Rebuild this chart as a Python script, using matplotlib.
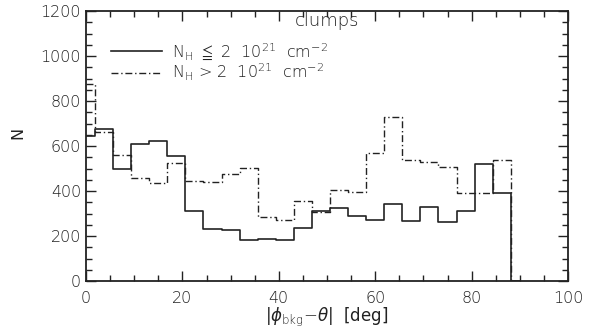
import numpy as np
import matplotlib
matplotlib.use("Agg")
import matplotlib.pyplot as plt
from matplotlib.ticker import MultipleLocator

# bin centres (deg) and counts
bin_width = 3.75
centers = np.arange(24) * bin_width
n_low = [644, 674, 499, 607, 624, 556, 313, 232, 228, 182, 185, 182,
         236, 313, 323, 290, 270, 341, 268, 327, 264, 310, 520, 390]
n_high = [876, 663, 560, 458, 434, 523, 446, 441, 476, 503, 286, 270,
          357, 305, 406, 397, 570, 727, 538, 527, 508, 392, 392, 538]

x_ticks = [0, 20, 40, 60, 80, 100]
y_ticks = [0, 200, 400, 600, 800, 1000, 1200]

plt.rcParams['font.family'] = ['DejaVu Sans']
plt.rcParams['font.weight'] = 'light'
plt.rcParams['mathtext.fontset'] = 'custom'
plt.rcParams['mathtext.rm'] = 'DejaVu Sans:light'
plt.rcParams['mathtext.it'] = 'DejaVu Sans:italic:light'

fig = plt.figure(figsize=(5.95, 3.31), dpi=100)
ax = fig.add_axes([86/595, 1-281/331, (568-86)/595, (281-11)/331])

xs = np.append(centers, 90.0)
ax.step(xs, np.append(n_low, 0), where='mid', color='#222222', lw=1.2,
        label=r'N$_{\rm H}$ $\leqq$ 2  10$^{21}$  cm$^{-2}$')
ax.step(xs, np.append(n_high, 0), where='mid', color='#222222', lw=1.0,
        linestyle=(0, (5, 2, 1, 2)),
        label=r'N$_{\rm H}$ > 2  10$^{21}$  cm$^{-2}$')

ax.set_xlim(0, 100)
ax.set_ylim(0, 1200)
ax.set_xticks(x_ticks)
ax.set_yticks(y_ticks)
ax.xaxis.set_minor_locator(MultipleLocator(5))
ax.yaxis.set_minor_locator(MultipleLocator(50))
ax.tick_params(which='both', direction='in', top=True, right=True, width=1.0,
               labelsize=11.5, color='#222222', labelcolor='#222222')
ax.tick_params(which='major', length=7)
ax.tick_params(which='minor', length=4)
ax.tick_params(axis='x', pad=7)
for s in ax.spines.values():
    s.set_linewidth(1.3)
    s.set_color('#222222')

ax.set_xlabel(r'|$\phi_{\rm bkg}$$-\theta$|  [deg]', fontsize=12, labelpad=0,
              color='#222222')
ax.set_ylabel('N', fontsize=11.5, color='#222222')
ax.yaxis.set_label_coords(-0.125, 0.55)

ax.text(0.5, 0.995, 'clumps', transform=ax.transAxes, ha='center', va='top',
        fontsize=13, color='#222222')
ax.legend(loc='upper left', bbox_to_anchor=(0.045, 0.90), frameon=False,
          fontsize=11.5, handlelength=3.2, handletextpad=0.6,
          labelspacing=0.0, borderpad=0.2, borderaxespad=0.0,
          labelcolor='#222222')

fig.savefig('out.png', dpi=100)
